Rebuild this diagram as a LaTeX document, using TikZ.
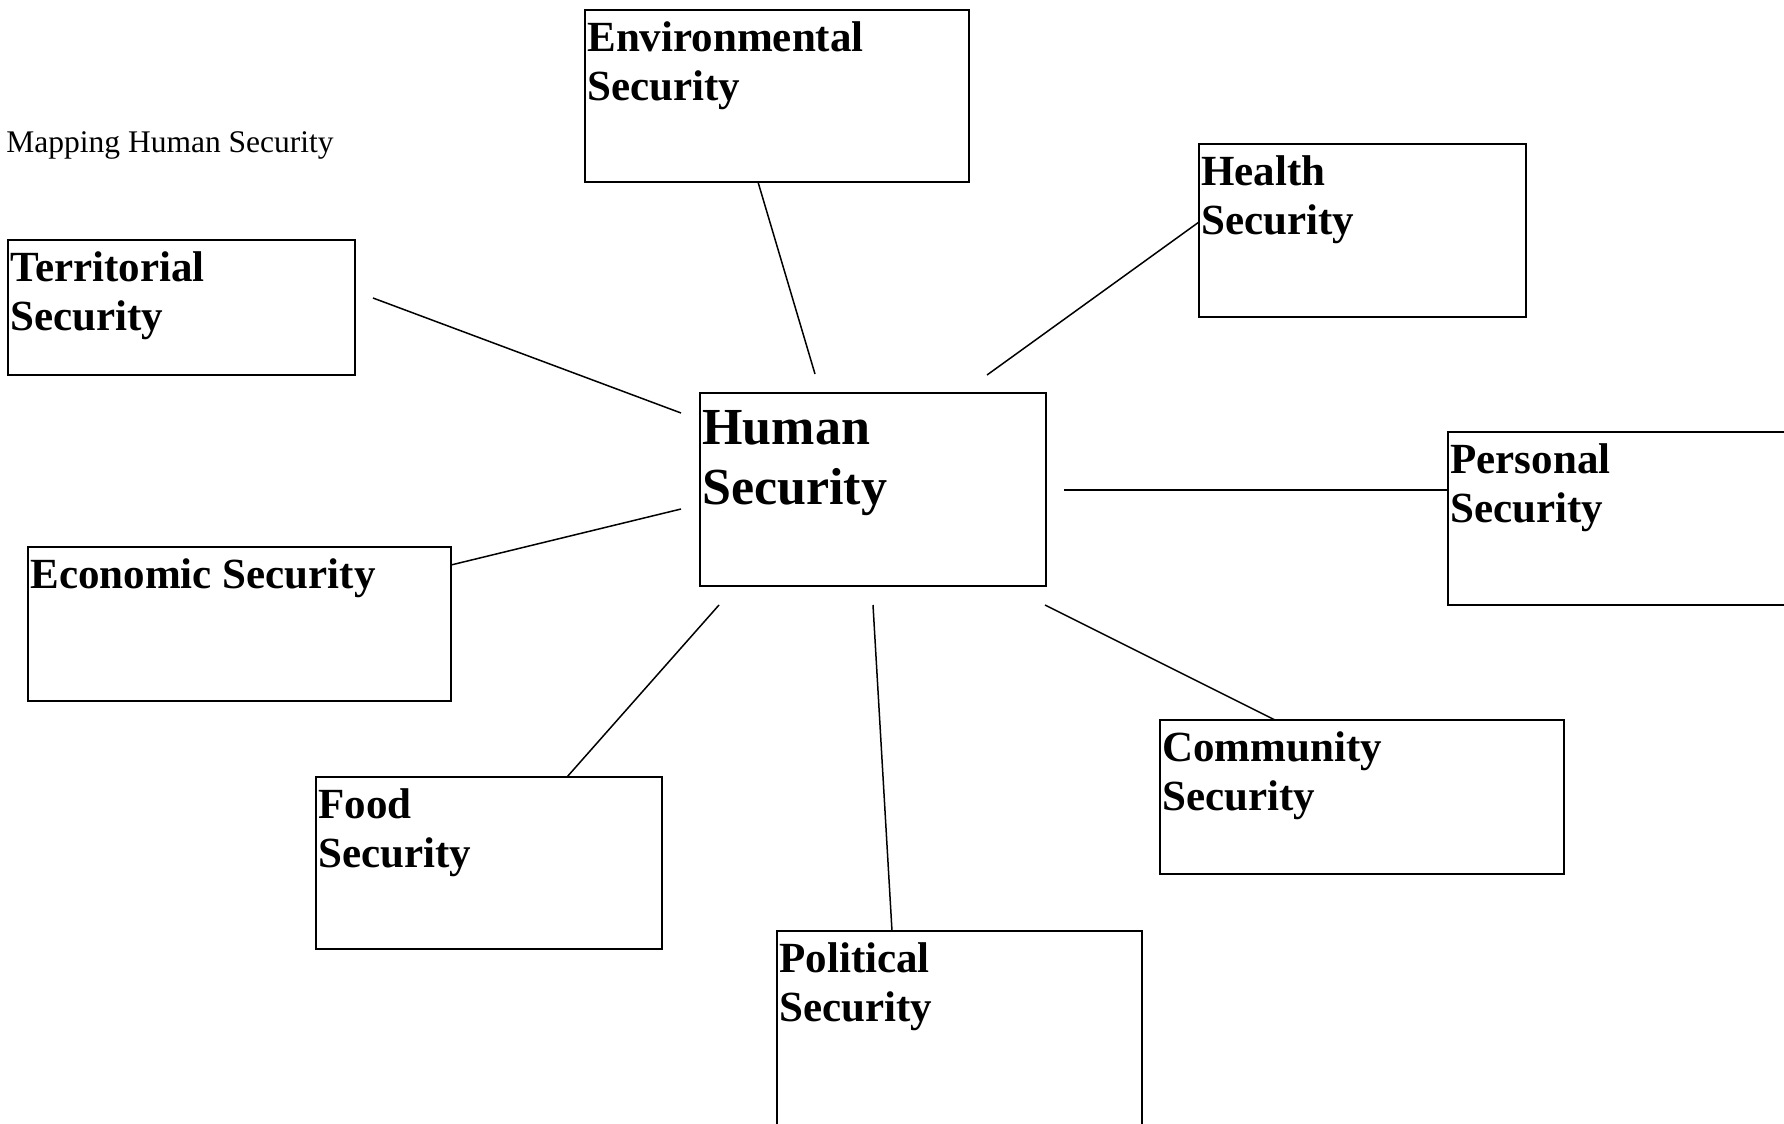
\documentclass[tikz,border=0pt]{standalone}
\usepackage{fontspec}
\setmainfont{Liberation Serif}
\usetikzlibrary{calc}

\tikzset{
  secbox/.style={draw, line width=1pt, rectangle, anchor=north west, inner sep=0pt, outer sep=0pt},
  seclabel/.style={anchor=base west, inner sep=0pt, align=left, font=\fontsize{21.5}{24.5}\selectfont\bfseries},
  link/.style={line width=0.75pt}
}

\begin{document}
\begin{tikzpicture}[x=1pt,y=-1pt]
  \useasboundingbox (0,0) rectangle (892,562);

  \node[anchor=base west, inner sep=0pt, font=\fontsize{15.75}{18}\selectfont] (title) at (3,76) {Mapping Human Security};

  % the boxes
  \node[secbox, minimum width=192pt, minimum height=86pt] (env) at (292.5,5) {};
  \node[secbox, minimum width=163.5pt, minimum height=86.5pt] (health) at (599.5,72) {};
  \node[secbox, minimum width=173.5pt, minimum height=67.5pt] (terr) at (4,120) {};
  \node[secbox, minimum width=173pt, minimum height=96.5pt] (human) at (350,196.5) {};
  \node[secbox, minimum width=180pt, minimum height=86.5pt] (pers) at (724,216) {};
  \node[secbox, minimum width=211.5pt, minimum height=77pt] (econ) at (14,273.5) {};
  \node[secbox, minimum width=202pt, minimum height=77pt] (comm) at (580,360) {};
  \node[secbox, minimum width=173pt, minimum height=86pt] (food) at (158,388.5) {};
  \node[secbox, minimum width=182.5pt, minimum height=102pt] (pol) at (388.5,465.5) {};

  % the texts (base anchor sits on the last line)
  \node[seclabel] (envtxt) at ($(env.north west)+(1,45)$) {Environmental\\Security};
  \node[seclabel] (healthtxt) at ($(health.north west)+(1,45)$) {Health\\Security};
  \node[seclabel] (terrtxt) at ($(terr.north west)+(1,45)$) {Territorial\\Security};
  \node[seclabel, font=\fontsize{26}{30}\selectfont\bfseries] (humantxt) at ($(human.north west)+(1,55.5)$) {Human\\Security};
  \node[seclabel] (perstxt) at ($(pers.north west)+(1,45)$) {Personal\\Security};
  \node[seclabel] (econtxt) at ($(econ.north west)+(1,20.5)$) {Economic Security};
  \node[seclabel] (commtxt) at ($(comm.north west)+(1,45)$) {Community\\Security};
  \node[seclabel] (foodtxt) at ($(food.north west)+(1,45)$) {Food\\Security};
  \node[seclabel] (poltxt) at ($(pol.north west)+(1,45)$) {Political\\Security};

  % loose ends of the spokes
  \coordinate (envend) at (407.5,187);
  \coordinate (terrstart) at (186.5,149);
  \coordinate (terrend) at (340.5,206.5);
  \coordinate (econend) at (340.5,254.5);
  \coordinate (healthend) at (493.5,187.5);
  \coordinate (persend) at (532,245);
  \coordinate (foodend) at (359.5,302.5);
  \coordinate (polend) at (436.5,302.5);
  \coordinate (commend) at (522.5,302.5);

  % spokes
  \draw[link] ($(env.south west)+(86.5,0)$) -- (envend);
  \draw[link] (terrstart) -- (terrend);
  \draw[link] ($(econ.north east)+(0,9)$) -- (econend);
  \draw[link] ($(health.north west)+(0,39)$) -- (healthend);
  \draw[link] ($(pers.north west)+(0,29)$) -- (persend);
  \draw[link] ($(food.north west)+(125.5,0)$) -- (foodend);
  \draw[link] ($(pol.north west)+(57.5,0)$) -- (polend);
  \draw[link] ($(comm.north west)+(57.5,0)$) -- (commend);
\end{tikzpicture}
\end{document}
